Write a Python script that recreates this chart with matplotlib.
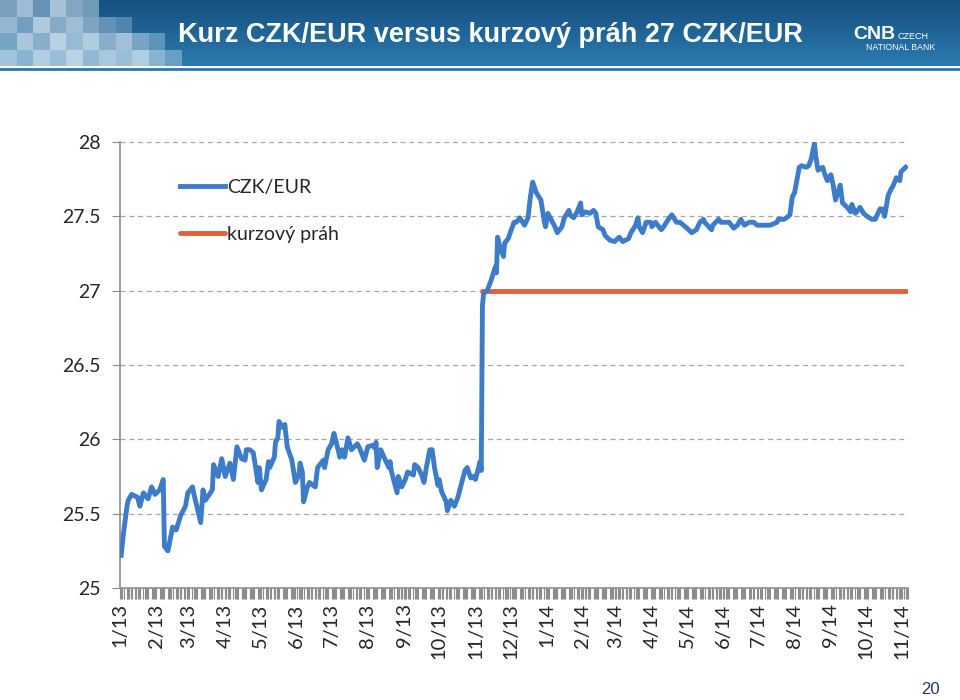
import numpy as np
import pandas as pd
import matplotlib
matplotlib.use("Agg")
import matplotlib.pyplot as plt
import matplotlib.dates as mdates
from matplotlib.ticker import FuncFormatter
from matplotlib.colors import to_rgb

# denni kurz CZK/EUR
datumy = [
    "2013-01-02", "2013-01-04", "2013-01-07", "2013-01-08", "2013-01-11", "2013-01-16",
    "2013-01-18", "2013-01-21", "2013-01-25", "2013-01-28", "2013-01-31", "2013-02-04",
    "2013-02-07", "2013-02-08", "2013-02-11", "2013-02-15", "2013-02-18", "2013-02-20",
    "2013-02-22", "2013-02-26", "2013-02-28", "2013-03-04", "2013-03-05", "2013-03-11",
    "2013-03-13", "2013-03-15", "2013-03-21", "2013-03-22", "2013-03-26", "2013-03-29",
    "2013-04-01", "2013-04-05", "2013-04-08", "2013-04-11", "2013-04-15", "2013-04-18",
    "2013-04-19", "2013-04-22", "2013-04-25", "2013-04-29", "2013-04-30", "2013-05-02",
    "2013-05-06", "2013-05-08", "2013-05-09", "2013-05-13", "2013-05-14", "2013-05-16",
    "2013-05-17", "2013-05-20", "2013-05-22", "2013-05-24", "2013-05-28", "2013-05-31",
    "2013-06-03", "2013-06-04", "2013-06-06", "2013-06-07", "2013-06-10", "2013-06-12",
    "2013-06-17", "2013-06-19", "2013-06-24", "2013-06-25", "2013-06-28", "2013-07-01",
    "2013-07-03", "2013-07-05", "2013-07-08", "2013-07-10", "2013-07-12", "2013-07-15",
    "2013-07-18", "2013-07-23", "2013-07-25", "2013-07-29", "2013-08-01", "2013-08-05",
    "2013-08-07", "2013-08-08", "2013-08-09", "2013-08-12", "2013-08-16", "2013-08-19",
    "2013-08-20", "2013-08-21", "2013-08-23", "2013-08-26", "2013-08-27", "2013-08-30",
    "2013-09-02", "2013-09-04", "2013-09-09", "2013-09-10", "2013-09-13", "2013-09-16",
    "2013-09-18", "2013-09-20", "2013-09-23", "2013-09-25", "2013-09-27", "2013-09-30",
    "2013-10-01", "2013-10-03", "2013-10-07", "2013-10-08", "2013-10-11", "2013-10-14",
    "2013-10-17", "2013-10-21", "2013-10-23", "2013-10-25", "2013-10-28", "2013-10-30",
    "2013-11-01", "2013-11-05", "2013-11-06", "2013-11-07", "2013-11-08", "2013-11-11",
    "2013-11-14", "2013-11-18", "2013-11-19", "2013-11-20", "2013-11-22", "2013-11-25",
    "2013-11-26", "2013-11-29", "2013-12-04", "2013-12-06", "2013-12-09", "2013-12-13",
    "2013-12-16", "2013-12-18", "2013-12-20", "2013-12-23", "2013-12-27", "2013-12-30",
    "2013-12-31",
    "2014-01-02", "2014-01-06", "2014-01-08", "2014-01-10", "2014-01-14", "2014-01-16",
    "2014-01-20", "2014-01-21", "2014-01-24", "2014-01-27", "2014-01-30", "2014-01-31",
    "2014-02-03", "2014-02-07", "2014-02-10", "2014-02-12", "2014-02-14", "2014-02-18",
    "2014-02-20", "2014-02-24", "2014-02-28", "2014-03-04", "2014-03-07", "2014-03-12",
    "2014-03-14", "2014-03-18", "2014-03-20", "2014-03-21", "2014-03-24", "2014-03-27",
    "2014-03-31", "2014-04-01", "2014-04-04", "2014-04-09", "2014-04-11", "2014-04-15",
    "2014-04-17", "2014-04-18", "2014-04-22", "2014-04-25", "2014-04-28", "2014-05-01",
    "2014-05-05", "2014-05-09", "2014-05-12", "2014-05-15", "2014-05-16", "2014-05-22",
    "2014-05-23", "2014-05-28", "2014-05-30", "2014-06-03", "2014-06-06", "2014-06-10",
    "2014-06-13", "2014-06-16", "2014-06-19", "2014-06-23", "2014-06-27", "2014-06-30",
    "2014-07-04", "2014-07-08", "2014-07-11", "2014-07-17", "2014-07-18", "2014-07-23",
    "2014-07-25", "2014-07-28", "2014-07-30", "2014-08-01", "2014-08-05", "2014-08-07",
    "2014-08-11", "2014-08-13", "2014-08-15", "2014-08-18", "2014-08-19", "2014-08-21",
    "2014-08-25", "2014-08-27", "2014-08-29", "2014-09-01", "2014-09-03", "2014-09-05",
    "2014-09-09", "2014-09-11", "2014-09-15", "2014-09-18", "2014-09-19", "2014-09-22",
    "2014-09-26", "2014-09-29", "2014-10-02", "2014-10-06", "2014-10-09", "2014-10-13",
    "2014-10-15", "2014-10-17", "2014-10-20", "2014-10-23", "2014-10-24", "2014-10-27",
    "2014-10-30", "2014-10-31", "2014-11-04",
]
kurz = [
    25.22, 25.37, 25.55, 25.59, 25.63, 25.61,
    25.55, 25.64, 25.60, 25.68, 25.63, 25.66,
    25.73, 25.28, 25.25, 25.41, 25.39, 25.44,
    25.49, 25.55, 25.64, 25.68, 25.64, 25.44,
    25.66, 25.59, 25.66, 25.83, 25.75, 25.87,
    25.75, 25.84, 25.73, 25.95, 25.87, 25.86,
    25.93, 25.93, 25.91, 25.71, 25.81, 25.66,
    25.73, 25.85, 25.81, 25.88, 25.98, 26.01,
    26.12, 26.08, 26.10, 25.95, 25.86, 25.71,
    25.76, 25.84, 25.78, 25.58, 25.67, 25.71,
    25.68, 25.81, 25.86, 25.81, 25.93, 25.97,
    26.04, 25.98, 25.88, 25.93, 25.88, 26.01,
    25.93, 25.97, 25.94, 25.86, 25.95, 25.96,
    25.94, 25.98, 25.81, 25.93, 25.86, 25.81,
    25.85, 25.79, 25.73, 25.64, 25.75, 25.68,
    25.73, 25.78, 25.76, 25.83, 25.81, 25.76,
    25.71, 25.81, 25.93, 25.93, 25.81, 25.69,
    25.73, 25.65, 25.58, 25.52, 25.59, 25.55,
    25.61, 25.73, 25.79, 25.81, 25.74, 25.75,
    25.73, 25.85, 25.79, 26.90, 26.98, 27.00,
    27.06, 27.16, 27.12, 27.36, 27.29, 27.23,
    27.32, 27.35, 27.46, 27.46, 27.49, 27.44,
    27.49, 27.63, 27.73, 27.66, 27.61, 27.46,
    27.43,
    27.52, 27.46, 27.43, 27.39, 27.43, 27.49,
    27.54, 27.51, 27.49, 27.53, 27.59, 27.51,
    27.53, 27.52, 27.54, 27.52, 27.43, 27.41,
    27.37, 27.34, 27.33, 27.36, 27.33, 27.35,
    27.39, 27.44, 27.49, 27.43, 27.39, 27.46,
    27.46, 27.43, 27.46, 27.41, 27.43, 27.48,
    27.50, 27.51, 27.46, 27.46, 27.44, 27.42,
    27.39, 27.41, 27.46, 27.48, 27.46, 27.41,
    27.44, 27.48, 27.46, 27.46, 27.46, 27.42,
    27.44, 27.48, 27.44, 27.46, 27.46, 27.44,
    27.44, 27.44, 27.44, 27.46, 27.48, 27.48,
    27.49, 27.51, 27.63, 27.66, 27.83, 27.84,
    27.83, 27.84, 27.88, 27.99, 27.91, 27.81,
    27.83, 27.78, 27.74, 27.78, 27.71, 27.61,
    27.71, 27.59, 27.56, 27.53, 27.58, 27.52,
    27.56, 27.52, 27.50, 27.48, 27.48, 27.55,
    27.55, 27.50, 27.64, 27.69, 27.70, 27.76,
    27.74, 27.80, 27.83,
]

# kurzovy prah od intervence CNB
prah_od = "2013-11-07"
prah_do = "2014-11-04"
prah = 27.0

titulek = "Kurz CZK/EUR versus kurzový práh 27 CZK/EUR"
y_ticks = [25, 25.5, 26, 26.5, 27, 27.5, 28]

modra = "#3D7CC9"
oranzova = "#E4603B"

plt.rcParams["font.family"] = ["Lato", "DejaVu Sans"]

fig = plt.figure(figsize=(9.6, 7.0), dpi=100)
fig.patch.set_facecolor("white")

# --- hlavicka (modry pruh s mozaikou) ---
ban = fig.add_axes([0, 1 - 66 / 700, 1, 66 / 700])
ban.set_xlim(0, 960)
ban.set_ylim(66, 0)
ban.axis("off")
top_c = np.array(to_rgb("#164F80"))
bot_c = np.array(to_rgb("#2B7BB0"))
grad = np.linspace(0, 1, 66)[:, None, None] * (bot_c - top_c) + top_c
grad = np.repeat(grad, 2, axis=1)
ban.imshow(grad, extent=[0, 960, 66, 0], aspect="auto")

mozaika = [
    [0.55, 0.75, 0.45, 0.80, 0.60, 0.50, 0.00, 0.00, 0.00, 0.00, 0.00],
    [0.70, 0.50, 0.85, 0.60, 0.75, 0.55, 0.40, 0.30, 0.00, 0.00, 0.00],
    [0.50, 0.80, 0.60, 0.90, 0.70, 0.85, 0.60, 0.75, 0.50, 0.35, 0.00],
    [0.75, 0.60, 0.85, 0.70, 0.90, 0.65, 0.80, 0.70, 0.85, 0.60, 0.40],
]
svetla = np.array(to_rgb("#C9DDEB"))
for r, row in enumerate(mozaika):
    for c, a in enumerate(row):
        if a > 0:
            base = top_c + (bot_c - top_c) * (r * 16.5 + 8) / 66
            col = base + (svetla - base) * a
            ban.add_patch(plt.Rectangle((c * 16.5, r * 16.5), 16.5, 16.5,
                                        facecolor=col, edgecolor="none"))

ban.text(490, 35, titulek, color="white", fontsize=19.5, fontweight="bold",
         ha="center", va="center",
         family=["Liberation Sans", "DejaVu Sans"])
ban.text(853, 39, "CNB", color="white", fontsize=14, fontweight="bold",
         ha="left", va="baseline", family=["Liberation Sans", "DejaVu Sans"])
ban.text(897, 39, "CZECH", color="white", fontsize=6.5, ha="left", va="baseline",
         family=["Liberation Sans", "DejaVu Sans"])
ban.text(935, 50, "NATIONAL BANK", color="white", fontsize=6.3, ha="right",
         va="baseline", family=["Liberation Sans", "DejaVu Sans"])

# linky pod hlavickou
fig.add_artist(plt.Line2D([0, 1], [1 - 69 / 700] * 2, color="#2A79AE", lw=2))

# --- graf ---
ax = fig.add_axes([120 / 960, 1 - 588 / 700, 788 / 960, 446 / 700])

x = pd.to_datetime(datumy)
ax.plot(x, kurz, color=modra, lw=3.5, solid_joinstyle="round",
        label="CZK/EUR", zorder=3)
ax.plot(pd.to_datetime([prah_od, prah_do]), [prah, prah], color=oranzova, lw=3.5,
        solid_capstyle="round", label="kurzový práh", zorder=2)

ax.set_xlim(pd.Timestamp("2013-01-01"), pd.Timestamp("2014-11-06"))
ax.set_ylim(25, 28)
ax.set_yticks(y_ticks)
ax.set_yticklabels([f"{v:g}" for v in y_ticks])

ax.xaxis.set_major_locator(mdates.MonthLocator())
ax.xaxis.set_major_formatter(FuncFormatter(
    lambda v, p: f"{mdates.num2date(v).month}/{mdates.num2date(v):%y}"))
ax.xaxis.set_minor_locator(mdates.WeekdayLocator(byweekday=range(5)))

for s in ["top", "right"]:
    ax.spines[s].set_visible(False)
for s in ["left", "bottom"]:
    ax.spines[s].set_color("#8C8C8C")
    ax.spines[s].set_linewidth(1.2)

ax.grid(axis="y", color="#A6A6A6", linestyle=(0, (4, 3)), lw=0.9)
ax.tick_params(axis="y", length=6, color="#8C8C8C", labelsize=14, pad=8,
               labelcolor="#262626")
ax.tick_params(axis="x", which="both", length=8, color="#8C8C8C", width=0.8,
               labelsize=14.5, labelrotation=90, labelcolor="#262626", pad=3)

leg = ax.legend(loc="upper left", bbox_to_anchor=(0.066, 0.935), frameon=False,
                fontsize=14, handlelength=2.3, handletextpad=0.15, labelspacing=1.55,
                borderaxespad=0)
for t in leg.get_texts():
    t.set_color("#262626")

fig.text(930 / 960, 1 - 690 / 700, "20", color="#1F3864", fontsize=12,
         ha="center", va="center", family=["Liberation Sans", "DejaVu Sans"])

fig.savefig("out.png", dpi=100)
